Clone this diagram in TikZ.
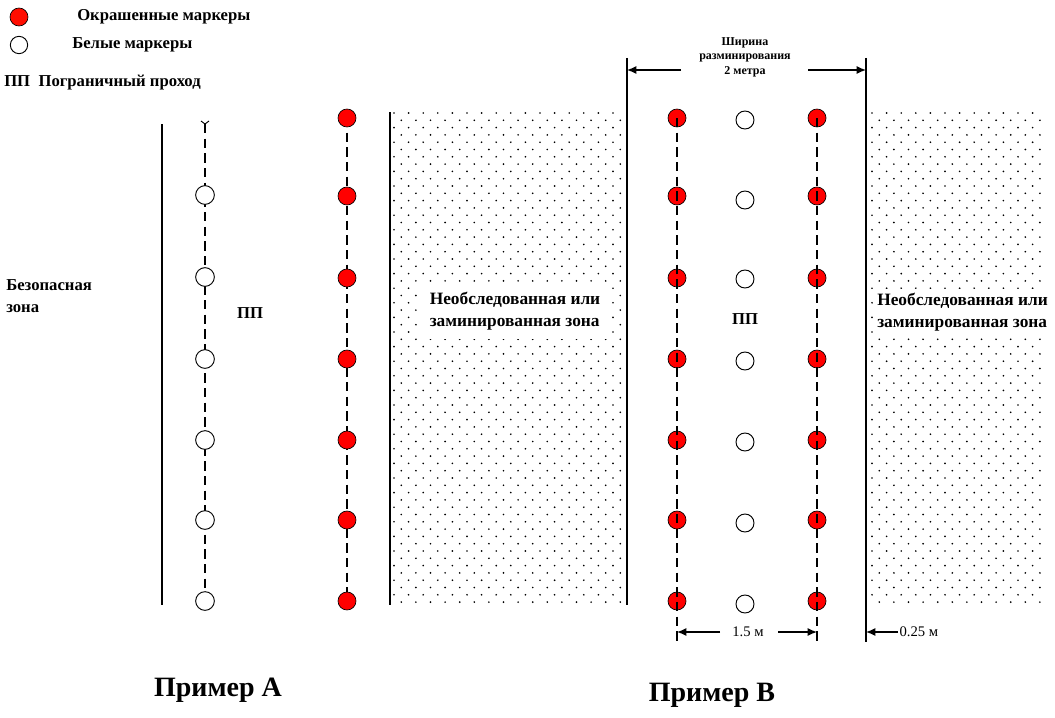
\documentclass[tikz,border=0pt]{standalone}
\usepackage{fontspec}
\setmainfont{Liberation Serif}
\usetikzlibrary{arrows.meta}
\begin{document}
\begin{tikzpicture}[x=0.75pt,y=-0.75pt,
  redm/.style={circle,draw=black,line width=0.5pt,fill=red,minimum size=13.5pt,inner sep=0pt},
  whitem/.style={circle,draw=black,line width=0.7pt,fill=white,minimum size=13pt,inner sep=0pt},
  dline/.style={line width=1pt,dash pattern=on 7pt off 4pt},
  bound/.style={line width=1.3pt},
  dimarrow/.style={line width=1pt,-{Latex[length=7pt,width=6pt]}},
  lbl/.style={font=\bfseries\fontsize{12.5}{15}\selectfont,inner sep=0pt},
  zonetxt/.style={font=\bfseries\fontsize{13}{16.5}\selectfont,align=left,fill=white,inner sep=7pt},
  small/.style={font=\fontsize{11}{13}\selectfont,inner sep=1pt},
  title/.style={font=\bfseries\fontsize{21}{24}\selectfont,inner sep=0pt},
  dot/.style={fill=black}
]
\useasboundingbox (0,0) rectangle (1055,717);

% ---------- dotted zones ----------
\foreach \r in {0,...,67}{
  \pgfmathsetmacro{\yy}{113+\r*7.3}
  \pgfmathsetmacro{\off}{mod(\r,2)*7.3}
  \foreach \c in {0,...,15}{
    \fill[dot] ({394+\off+\c*14.6},\yy) circle (0.7pt);
  }
  \foreach \c in {0,...,11}{
    \fill[dot] ({872+\off+\c*14.6},\yy) circle (0.7pt);
  }
}

% ---------- legend ----------
\node[redm,fill=red!90!orange,minimum size=13.5pt] (legred) at (19,17) {};
\node[lbl,anchor=west] (legredt) at (77,17) {Окрашенные маркеры};
\node[whitem] (legwhite) at (19,45) {};
\node[lbl,anchor=west] (legwhitet) at (72,45) {Белые маркеры};
\node[lbl,anchor=west] (legpp) at (4,83) {ПП\enspace Пограничный проход};

% ---------- example A ----------
\coordinate (sA1) at (162,124);
\coordinate (sA2) at (162,605);
\draw[bound] (sA1) -- (sA2);
\node[lbl,anchor=west,align=left,font=\bfseries\fontsize{12.5}{16.5}\selectfont] (safe) at (6,296) {Безопасная\\зона};
\node[lbl] (ppA) at (250,313) {ПП};

\coordinate (wAtop) at (205,124);
\foreach \i/\y in {1/195,2/277,3/359,4/440,5/520,6/601}{
  \coordinate (wA\i) at (205,\y);
}
\draw[dline] (wAtop) -- (wA6);
\draw[line width=0.7pt] (wAtop) ++(-4,-3) coordinate (vA1) -- (wAtop) -- ++(4,-3) coordinate (vA2);
\foreach \i in {1,...,6}{ \node[whitem,minimum width=13pt,minimum height=14pt] (nwA\i) at (wA\i) {}; }

\foreach \i/\y in {1/118,2/196,3/278,4/359,5/440,6/520,7/601}{
  \coordinate (rA\i) at (347,\y);
}
\draw[dline] (rA1) -- (rA7);
\foreach \i in {1,...,7}{ \node[redm] (nrA\i) at (rA\i) {}; }

\coordinate (zA1) at (390,112);
\coordinate (zA2) at (390,605);
\draw[bound] (zA1) -- (zA2);
\coordinate (zA3) at (627,58);
\coordinate (zA4) at (627,605);
\draw[bound] (zA3) -- (zA4);
\node[zonetxt] (zoneA) at (515,311) {Необследованная или\\заминированная зона};

% ---------- example B ----------
\coordinate (zB1) at (866,58);
\coordinate (zB2) at (866,642);
\draw[bound] (zB1) -- (zB2);
\node[zonetxt,anchor=west,inner sep=3pt] (zoneB) at (873,312) {Необследованная или\\заминированная зона};

\foreach \i/\y in {1/118,2/196,3/278,4/359,5/440,6/520,7/601}{
  \coordinate (rBL\i) at (677,\y);
  \coordinate (rBR\i) at (817,\y);
  \node[redm] (nrBL\i) at (rBL\i) {};
  \node[redm] (nrBR\i) at (rBR\i) {};
}
\coordinate (rBLend) at (677,642);
\coordinate (rBRend) at (817,642);
\draw[dline] (rBL1) -- (rBLend);
\draw[dline] (rBR1) -- (rBRend);

\foreach \i/\y in {1/120,2/200,3/279,4/361,5/442,6/523,7/604}{
  \node[whitem,minimum width=13pt,minimum height=13.5pt] (wB\i) at (745,\y) {};
}
\node[lbl] (ppB) at (745,319) {ПП};

% width of clearing
\node[small,font=\bfseries\fontsize{9}{10.8}\selectfont,align=center] (wtxt) at (745,57) {Ширина\\разминирования\\2 метра};
\coordinate (wL) at (627,70);
\coordinate (wR) at (866,70);
\coordinate (wLs) at (681,70);
\coordinate (wRs) at (808,70);
\draw[dimarrow] (wLs) -- (wL);
\draw[dimarrow] (wRs) -- (wR);

% 1.5 m
\node[small] (d15) at (748,632) {1.5 м};
\coordinate (d15L) at (677,632);
\coordinate (d15R) at (817,632);
\coordinate (d15Ls) at (720,632);
\coordinate (d15Rs) at (778,632);
\draw[dimarrow] (d15Ls) -- (d15L);
\draw[dimarrow] (d15Rs) -- (d15R);

% 0.25 m
\node[small,anchor=west] (d025) at (898,632) {0.25 м};
\coordinate (d025L) at (866,632);
\draw[dimarrow] (d025.west) -- (d025L);

% titles
\node[title] (tA) at (218,690) {Пример А};
\node[title] (tB) at (712,695) {Пример В};
\end{tikzpicture}
\end{document}
